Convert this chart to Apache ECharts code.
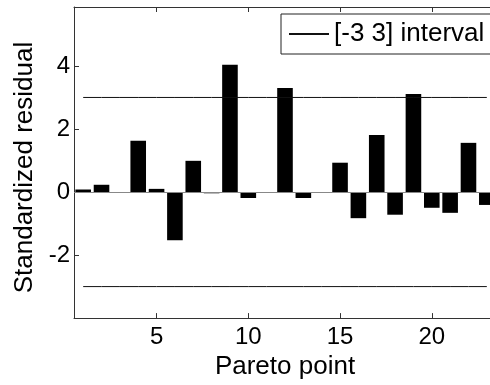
<!DOCTYPE html>
<html>
<head>
<meta charset="utf-8">
<script src="https://cdn.jsdelivr.net/npm/echarts@6/dist/echarts.min.js"></script>
<style>html,body{margin:0;padding:0;background:#fff;overflow:hidden;width:490px;height:385px;}#c{width:540px;height:385px;}</style>
</head>
<body>
<div id="c"></div>
<script>
var categories = ['1','2','3','4','5','6','7','8','9','10','11','12','13','14','15','16','17','18','19','20','21','22','23'];
var residuals = [0.08, 0.23, -0.03, 1.63, 0.1, -1.53, 0.99, -0.04, 4.04, -0.19, -0.03, 3.30, -0.19, 0.0, 0.93, -0.83, 1.81, -0.72, 3.11, -0.5, -0.66, 1.56, -0.41];
var upperLimit = categories.map(function(){ return 3; });
var lowerLimit = categories.map(function(){ return -3; });
var yTicksShown = [-2, 0, 2, 4];

var font = 'Liberation Sans, Arial, sans-serif';
var chart = echarts.init(document.getElementById('c'), null, {renderer: 'canvas'});
var showIdx = function(idx){ return (idx + 1) % 5 === 0; };
chart.setOption({
  animation: false,
  backgroundColor: '#fff',
  grid: {left: 74, top: 7, right: 44, bottom: 62},
  legend: {
    show: true,
    data: [{name: '[-3 3] interval'}],
    left: 281, top: 14,
    orient: 'horizontal',
    padding: [7, 30, 7, 7],
    itemWidth: 40, itemHeight: 14,
    itemGap: 0,
    itemStyle: {opacity: 0},
    backgroundColor: '#fff',
    borderColor: '#222', borderWidth: 1,
    textStyle: {fontFamily: font, fontSize: 26, color: '#000'},
    selectedMode: false
  },
  xAxis: [{
    type: 'category',
    data: categories,
    boundaryGap: true,
    position: 'bottom',
    axisLine: {show: true, onZero: false, lineStyle: {color: '#333', width: 1}},
    axisTick: {show: true, inside: true, length: 5, alignWithLabel: true, interval: showIdx, lineStyle: {color: '#333'}},
    axisLabel: {show: true, interval: showIdx, margin: 7, fontFamily: font, fontSize: 24, color: '#000'},
    splitLine: {show: false},
    name: 'Pareto point', nameLocation: 'middle', nameGap: 33,
    nameTextStyle: {fontFamily: font, fontSize: 26, color: '#000'}
  }, {
    type: 'category',
    data: categories,
    boundaryGap: true,
    position: 'top',
    axisLine: {show: true, onZero: false, lineStyle: {color: '#333', width: 1}},
    axisTick: {show: true, inside: true, length: 5, alignWithLabel: true, interval: showIdx, lineStyle: {color: '#333'}},
    axisLabel: {show: false},
    splitLine: {show: false}
  }],
  yAxis: [{
    type: 'value',
    min: -4, max: 5.87, interval: 2,
    position: 'left',
    axisLine: {show: true, onZero: false, lineStyle: {color: '#333', width: 1}},
    axisTick: {show: true, inside: true, length: 5, lineStyle: {color: '#333'}},
    axisLabel: {show: true, margin: 4, fontFamily: font, fontSize: 24, color: '#000',
      formatter: function(v){ return yTicksShown.indexOf(v) >= 0 ? String(v) : ''; }},
    splitLine: {show: false},
    name: 'Standardized residual', nameLocation: 'middle', nameGap: 36,
    nameTextStyle: {fontFamily: font, fontSize: 26, color: '#000', padding: [0, 10, 0, 0]}
  }],
  series: [{
    type: 'bar',
    name: 'residual',
    data: residuals,
    barWidth: '85%',
    itemStyle: {color: '#000'},
    markLine: {
      silent: true, symbol: 'none', label: {show: false},
      lineStyle: {color: '#888', width: 1, type: 'solid'},
      data: [{yAxis: 0}]
    }
  }, {
    type: 'line',
    name: '[-3 3] interval',
    data: upperLimit,
    symbol: 'none',
    showSymbol: false,
    lineStyle: {color: '#111', width: 1},
    itemStyle: {color: '#111'}
  }, {
    type: 'line',
    name: 'lower',
    data: lowerLimit,
    symbol: 'none',
    showSymbol: false,
    lineStyle: {color: '#111', width: 1},
    itemStyle: {color: '#111'}
  }]
});
</script>
</body>
</html>
